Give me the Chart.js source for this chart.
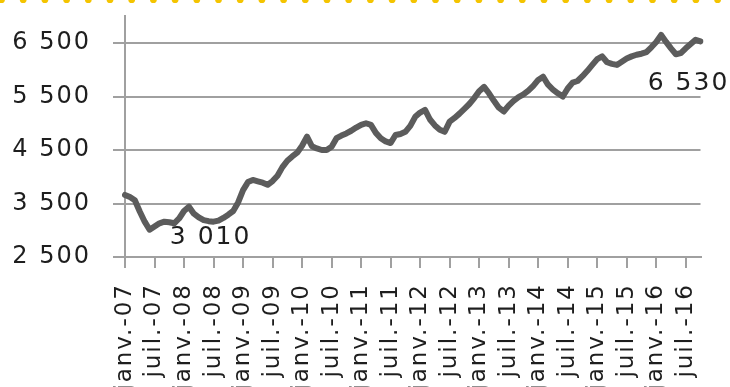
<!DOCTYPE html>
<html><head><meta charset="utf-8">
<script src="https://cdn.jsdelivr.net/npm/chart.js@4/dist/chart.umd.min.js"></script>
<style>html,body{margin:0;padding:0;background:#fff;overflow:hidden}#wrap{width:730px;height:387px}</style>
</head><body><div id="wrap"><canvas id="c" width="730" height="387"></canvas></div>
<script>
const monthNames = ['janv.','févr.','mars','avr.','mai','juin','juil.','août','sept.','oct.','nov.','déc.'];
const years = ['07','08','09','10','11','12','13','14','15','16'];
const values2007 = [3660,3620,3560,3350,3160,3010,3070,3130,3160,3150,3130,3220];
const values2008 = [3360,3440,3310,3240,3190,3170,3160,3180,3230,3290,3360,3520];
const values2009 = [3750,3900,3940,3915,3890,3850,3920,4020,4180,4300,4380,4450];
const values2010 = [4580,4750,4570,4530,4500,4500,4560,4720,4770,4810,4860,4920];
const values2011 = [4970,5000,4970,4820,4720,4660,4630,4780,4800,4840,4950,5120];
const values2012 = [5200,5250,5070,4960,4880,4840,5030,5100,5180,5270,5360,5470];
const values2013 = [5600,5680,5560,5420,5290,5220,5330,5420,5490,5540,5610,5700];
const values2014 = [5810,5870,5720,5630,5560,5500,5650,5760,5790,5880,5980,6090];
const values2015 = [6200,6250,6140,6110,6090,6150,6210,6250,6280,6300,6330,6420];
const values2016 = [6520,6650,6520,6400,6290,6310,6400,6480,6560,6530];
const yTicks = [2500,3500,4500,5500,6500];

const series = [].concat(values2007,values2008,values2009,values2010,values2011,
  values2012,values2013,values2014,values2015,values2016);
const categories = [];
years.forEach(y => monthNames.forEach(m => { if (categories.length < series.length) categories.push(m + '-' + y); }));

const fmt = v => String(v).replace(/\B(?=(\d{3})+(?!\d))/g, ' ');
const FONT = 'DejaVu Sans';

const topDots = {
  id: 'topDots',
  beforeDraw(chart) {
    const ctx = chart.ctx;
    ctx.letterSpacing = '2px';
    ctx.save();
    ctx.fillStyle = '#f4c400';
    for (let x = 1.5; x < chart.width + 5; x += 21.7) {
      ctx.beginPath(); ctx.arc(x, -0.3, 3.4, 0, Math.PI * 2); ctx.fill();
    }
    ctx.restore();
  }
};
const valueLabels = {
  id: 'valueLabels',
  afterDatasetsDraw(chart) {
    const ctx = chart.ctx, xs = chart.scales.x, ys = chart.scales.y;
    let iMin = 0; series.forEach((v, i) => { if (v < series[iMin]) iMin = i; });
    const iLast = series.length - 1;
    ctx.save();
    ctx.font = '25px "' + FONT + '"';
    ctx.fillStyle = '#1e1e1e';
    ctx.textAlign = 'center'; ctx.textBaseline = 'middle';
    ctx.fillText(fmt(series[iMin]), xs.getPixelForValue(iMin) + 61, ys.getPixelForValue(series[iMin]) + 8);
    ctx.fillText(fmt(series[iLast]), xs.getPixelForValue(iLast) - 12, ys.getPixelForValue(series[iLast]) + 42);
    ctx.restore();
  }
};

new Chart(document.getElementById('c'), {
  type: 'line',
  data: { labels: categories, datasets: [{
    data: series, borderColor: '#5c5c5c', borderWidth: 6, pointRadius: 0,
    borderJoinStyle: 'round', borderCapStyle: 'round', tension: 0, fill: false
  }]},
  options: {
    responsive: false, animation: false, devicePixelRatio: 1,
    layout: { padding: { left: 0, right: 29.5, top: 16.25, bottom: 0 } },
    plugins: { legend: { display: false }, tooltip: { enabled: false } },
    scales: {
      x: {
        type: 'category', offset: false,
        afterFit(s) { s.height = 130; s.paddingLeft = 0; s.paddingRight = 0; },
        border: { display: true, color: '#a0a0a0', width: 2 },
        grid: { drawOnChartArea: false, drawTicks: true, tickLength: 11, color: '#a0a0a0', lineWidth: 2 },
        ticks: {
          autoSkip: false, maxRotation: 90, minRotation: 90, padding: 15,
          color: '#1e1e1e', font: { family: FONT, size: 23 },
          callback(v, i) { return i % 6 === 0 ? categories[i] : null; }
        }
      },
      y: {
        min: 2500, max: 7000,
        afterFit(s) { s.width = 125; s.paddingTop = 0; s.paddingBottom = 0; },
        afterBuildTicks(s) { s.ticks = yTicks.map(v => ({ value: v })); },
        border: { display: true, color: '#a0a0a0', width: 2 },
        grid: { color: '#a0a0a0', lineWidth: 2, drawTicks: true, tickLength: 12 },
        ticks: { padding: 22, color: '#1e1e1e', font: { family: FONT, size: 24 }, callback: v => fmt(v) }
      }
    }
  },
  plugins: [topDots, valueLabels]
});
</script></body></html>
